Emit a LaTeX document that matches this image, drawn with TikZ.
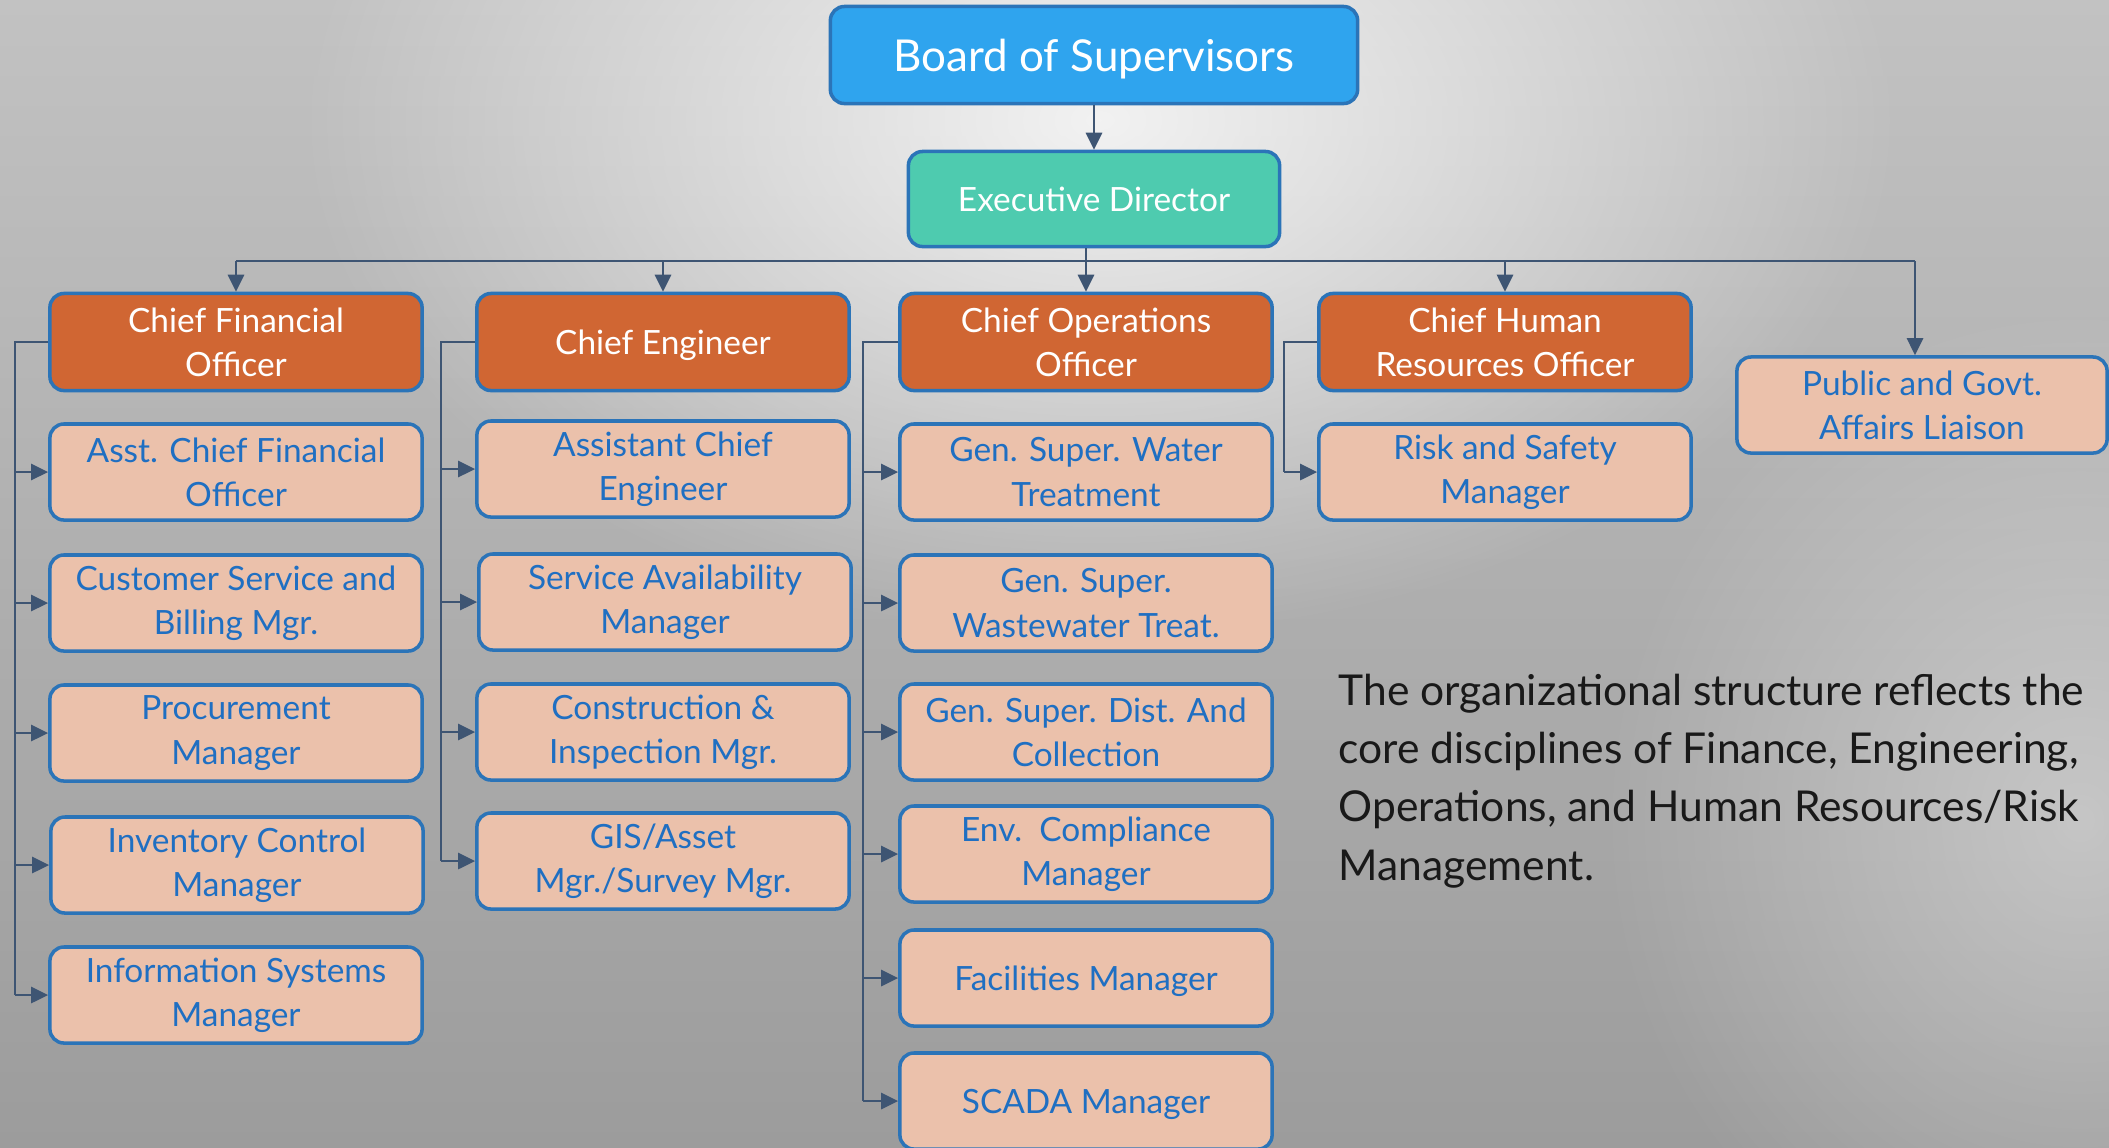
\documentclass[tikz,border=0pt]{standalone}
\usepackage{fontspec}
\setmainfont{Lato}
\usetikzlibrary{arrows.meta, positioning, calc, fadings}
\definecolor{boardblue}{HTML}{2FA4EE}
\definecolor{execteal}{HTML}{4ECBAF}
\definecolor{chieforange}{HTML}{D06633}
\definecolor{staffpeach}{HTML}{EBC1AB}
\definecolor{edgeblue}{HTML}{2B74B8}
\definecolor{textblue}{HTML}{1F6FC2}
\definecolor{linkslate}{HTML}{3E5573}
\definecolor{bgtop}{HTML}{C2C2C2}
\definecolor{bgbot}{HTML}{9C9C9C}
\tikzfading[name=glow, inner color=transparent!0, outer color=transparent!100]

\tikzset{
  box/.style={draw=edgeblue, line width=1pt, rounded corners=4pt, align=center,
    minimum width=3.72cm, minimum height=0.96cm, inner sep=2pt},
  chiefbox/.style={box, fill=chieforange, text=white, font=\fontsize{9.5}{12.6}\selectfont},
  staffbox/.style={box, fill=staffpeach, text=textblue, font=\fontsize{9.5}{12.6}\selectfont},
  link/.style={linkslate, line width=0.8pt},
  conn/.style={link, -{Triangle[length=1.7mm, width=1.6mm]}}
}

\begin{document}
\begin{tikzpicture}[x=0.01cm, y=-0.01cm]
  \useasboundingbox (0,0) rectangle (2109,1147);

  % Background with a soft light spot near the top
  \shade[top color=bgtop, bottom color=bgbot] (0,0) rectangle (2109,1147);
  \fill[white, opacity=0.8, path fading=glow] (1100,120) ellipse (800 and 520);
  \fill[white, opacity=0.35, path fading=glow] (2080,820) ellipse (480 and 520);

  % Top of the chart
  \node[box, fill=boardblue, text=white, font=\fontsize{12.5}{15}\selectfont, text depth=0pt,
        minimum width=5.27cm, minimum height=0.97cm] (board) at (1094,55) {Board of Supervisors};
  \node[box, fill=execteal, text=white, font=\fontsize{9.5}{12.6}\selectfont,
        minimum width=3.71cm, minimum height=0.95cm] (exec) at (1094,199) {Executive Director};
  \draw[conn] (board) -- (exec);

  % Chiefs row
  \node[chiefbox, minimum height=0.97cm] (cfo)  at (236,342)  {Chief Financial\\Officer};
  \node[chiefbox, minimum height=0.97cm, text depth=0pt] (ce) at (663,342) {Chief Engineer};
  \node[chiefbox, minimum height=0.97cm] (coo)  at (1086,342) {Chief Operations\\Officer};
  \node[chiefbox, minimum height=0.97cm] (chro) at (1505,342) {Chief Human\\Resources Officer};
  \node[staffbox, minimum width=3.70cm] (pga) at (1922,405) {Public and Govt.\\Affairs Liaison};

  % Distribution bar under the executive director
  \coordinate (hub) at (1086,261);
  \coordinate (pgaT) at (1915,261);
  \draw[link] (hub |- exec.south) -- (hub);
  \draw[link] (cfo.north |- hub) -- (pgaT);
  \foreach \c in {cfo,ce,coo,chro}
    \draw[conn] (\c.north |- hub) -- (\c.north);
  \draw[conn] (pgaT) -- (pgaT |- pga.north);

  % Finance column
  \node[staffbox] (acfo) at (236,472)  {Asst. Chief Financial\\Officer};
  \node[staffbox] (cust) at (236,603)  {Customer Service and\\Billing Mgr.};
  \node[staffbox] (proc) at (236,733)  {Procurement\\Manager};
  \node[staffbox] (inv)  at (237,865)  {Inventory Control\\Manager};
  \node[staffbox] (info) at (236,995)  {Information Systems\\Manager};
  \coordinate (cfoT) at (15,0);
  \draw[link] (cfo.west) -| (cfoT |- info.west);
  \foreach \c in {acfo,cust,proc,inv,info}
    \draw[conn] (cfoT |- \c.west) -- (\c.west);

  % Engineering column
  \node[staffbox] (ace) at (663,469) {Assistant Chief\\Engineer};
  \node[staffbox] (sam) at (665,602) {Service Availability\\Manager};
  \node[staffbox] (cim) at (663,732) {Construction \&\\Inspection Mgr.};
  \node[staffbox] (gis) at (663,861) {GIS/Asset\\Mgr./Survey Mgr.};
  \coordinate (ceT) at (441,0);
  \draw[link] (ce.west) -| (ceT |- gis.west);
  \foreach \c in {ace,sam,cim,gis}
    \draw[conn] (ceT |- \c.west) -- (\c.west);

  % Operations column
  \node[staffbox] (wtr)   at (1086,472) {Gen. Super. Water\\Treatment};
  \node[staffbox] (wwt)   at (1086,603) {Gen. Super.\\Wastewater Treat.};
  \node[staffbox] (dist)  at (1086,732) {Gen. Super. Dist. And\\Collection};
  \node[staffbox] (env)   at (1086,854) {Env.\ \ Compliance\\Manager};
  \node[staffbox, text depth=0pt] (fac)   at (1086,978) {Facilities Manager};
  \node[staffbox, text depth=0pt] (scada) at (1086,1101) {SCADA Manager};
  \coordinate (cooT) at (863,0);
  \draw[link] (coo.west) -| (cooT |- scada.west);
  \foreach \c in {wtr,wwt,dist,env,fac,scada}
    \draw[conn] (cooT |- \c.west) -- (\c.west);

  % Human resources column
  \node[staffbox] (risk) at (1505,472) {Risk and Safety\\Manager};
  \coordinate (hrT) at (1284,0);
  \draw[link] (chro.west) -| (hrT |- risk.west);
  \draw[conn] (hrT |- risk.west) -- (risk.west);

  % Note on the right
  \node[anchor=north west, inner sep=0pt, align=left, text=black!90,
        font=\fontsize{12.1}{16.6}\selectfont] (note) at (1338,673)
    {The organizational structure reflects the\\
     core disciplines of Finance, Engineering,\\
     Operations, and Human Resources/Risk\\
     Management.};
\end{tikzpicture}
\end{document}
